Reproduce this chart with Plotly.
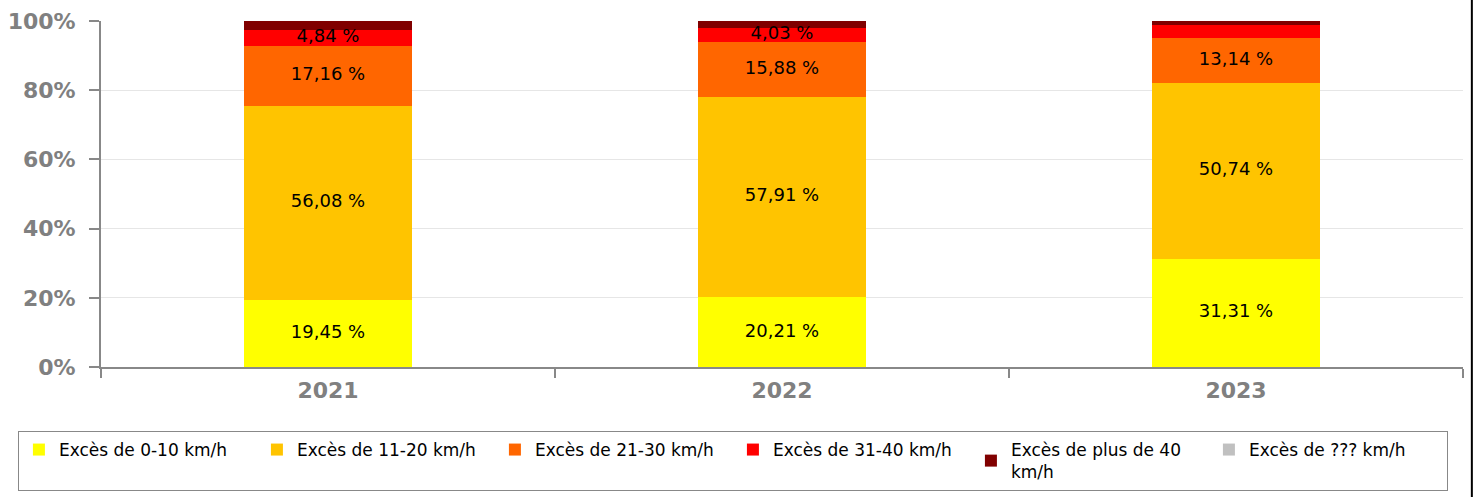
import plotly.graph_objects as go
import numpy as np

years = ["2021", "2022", "2023"]
series_names = [
    "Excès de 0-10 km/h",
    "Excès de 11-20 km/h",
    "Excès de 21-30 km/h",
    "Excès de 31-40 km/h",
    "Excès de plus de 40<br>km/h",
    "Excès de ??? km/h",
]
exces_0_10 = [19.45, 20.21, 31.31]
exces_11_20 = [56.08, 57.91, 50.74]
exces_21_30 = [17.16, 15.88, 13.14]
exces_31_40 = [4.84, 4.03, 3.61]
exces_plus_40 = [2.47, 1.97, 1.20]
exces_inconnu = [0.0, 0.0, 0.0]
y_tickvals = [0, 20, 40, 60, 80, 100]
y_ticktext = ["0%", "20%", "40%", "60%", "80%", "100%"]

colors = ["#FFFF00", "#FFC400", "#FF6600", "#FF0000", "#800000", "#C0C0C0"]
series = [exces_0_10, exces_11_20, exces_21_30, exces_31_40, exces_plus_40, exces_inconnu]

fig = go.Figure()
for name, vals, col in zip(series_names, series, colors):
    fig.add_trace(go.Bar(
        x=years, y=vals, name=name, marker=dict(color=col, line=dict(width=0)),
        hoverinfo="skip",
    ))

# data labels at segment midpoints
base = np.zeros(len(years))
lx, ly, lt = [], [], []
for vals in series:
    v = np.array(vals)
    for i, yr in enumerate(years):
        if v[i] >= 4:
            lx.append(yr)
            ly.append(base[i] + v[i] / 2)
            lt.append(f"{v[i]:.2f} %".replace(".", ","))
    base = base + v
fig.add_trace(go.Scatter(
    x=lx, y=ly, text=lt, mode="text", showlegend=False, hoverinfo="skip",
    textfont=dict(family="DejaVu Sans", size=18, color="#000000"),
    cliponaxis=False,
))

fig.update_layout(
    barmode="stack",
    bargap=0.63,
    width=1473, height=497,
    margin=dict(l=101, r=10, t=21, b=130, autoexpand=False),
    paper_bgcolor="white", plot_bgcolor="white",
    font=dict(family="DejaVu Sans", color="#000000"),
    xaxis=dict(
        type="category", automargin=False,
        showline=True, linecolor="#888888", linewidth=2,
        ticks="outside", tickson="boundaries", ticklen=9, tickcolor="#888888", tickwidth=2,
        tickfont=dict(family="DejaVu Sans", size=22, color="#808080", weight="bold"),
        ticklabelstandoff=3,
        showgrid=False,
    ),
    yaxis=dict(
        range=[0, 100], tickmode="array", tickvals=y_tickvals, ticktext=y_ticktext,
        automargin=False,
        showline=True, linecolor="#888888", linewidth=2,
        ticks="outside", ticklen=10, tickcolor="#888888", tickwidth=2,
        tickfont=dict(family="DejaVu Sans", size=22, color="#808080", weight="bold"),
        ticklabelstandoff=9,
        showgrid=True, gridcolor="#E6E6E6", gridwidth=1, zeroline=False,
    ),
    legend=dict(
        orientation="h", xref="paper", yref="paper",
        x=-0.061, xanchor="left", y=-0.185, yanchor="top",
        bordercolor="#888888", borderwidth=1,
        font=dict(family="DejaVu Sans", size=17, color="#000000"),
        traceorder="normal", entrywidth=193, entrywidthmode="pixels",
        valign="middle",
    ),
    showlegend=True,
)
fig.add_shape(type="line", xref="paper", yref="paper", x0=1.0065, x1=1.0065, y0=-0.5, y1=1.1,
              line=dict(color="#000000", width=2))

fig.write_html("out.html", config={"displayModeBar": False},
               post_script="document.body.style.margin='0';")
